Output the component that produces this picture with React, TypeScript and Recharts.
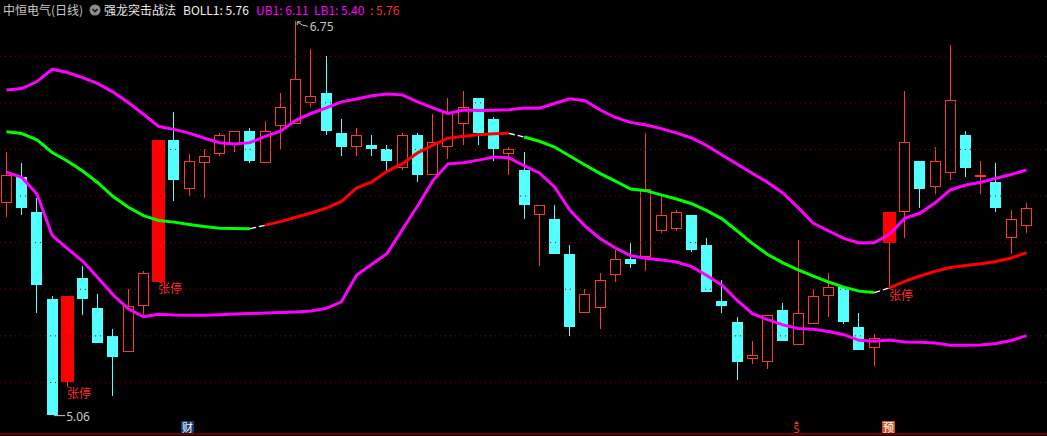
import React from 'react';
import {
  ComposedChart,
  Bar,
  Line,
  XAxis,
  YAxis,
  ReferenceLine,
  ReferenceDot,
} from 'recharts';

const W = 1047;
const H = 436;
const CJK = '"Noto Sans CJK SC", "Noto Sans", sans-serif';

const RED = '#ff3636';
const CYAN = '#54ffff';
const MAGENTA = '#ff00ff';

// 日K线 OHLC
const opens = [
  5.97, 6.08, 5.93, 5.56, 5.2, 5.65, 5.52, 5.4, 5.33, 5.53,
  5.63, 6.24, 6.03, 6.14, 6.18, 6.22, 6.28, 6.14, 6.3, 6.31,
  6.4, 6.44, 6.27, 6.21, 6.22, 6.2, 6.12, 6.26, 6.09, 6.21,
  6.31, 6.42, 6.33, 6.18, 6.11, 5.92, 5.9, 5.75, 5.5, 5.52,
  5.66, 5.73, 5.74, 5.85, 5.86, 5.92, 5.79, 5.55, 5.46, 5.3,
  5.29, 5.51, 5.36, 5.45, 5.57, 5.61, 5.44, 5.35, 5.8, 5.93,
  6.15, 6.04, 6.1, 6.26, 6.08, 6.06, 5.82, 5.87,
];
const highs = [
  6.19, 6.14, 5.99, 5.57, 5.57, 5.7, 5.58, 5.43, 5.6, 5.68,
  6.24, 6.36, 6.18, 6.2, 6.27, 6.28, 6.29, 6.32, 6.44, 6.75,
  6.63, 6.6, 6.33, 6.29, 6.26, 6.22, 6.27, 6.27, 6.35, 6.42,
  6.45, 6.42, 6.34, 6.21, 6.19, 5.96, 5.96, 5.79, 5.6, 5.67,
  5.77, 5.8, 6.27, 6.0, 5.94, 5.92, 5.82, 5.64, 5.48, 5.38,
  5.49, 5.54, 5.81, 5.6, 5.67, 5.61, 5.5, 5.41, 5.93, 6.45,
  6.15, 6.21, 6.65, 6.28, 6.15, 6.14, 5.94, 5.97,
];
const lows = [
  5.91, 5.92, 5.5, 5.06, 5.18, 5.49, 5.37, 5.14, 5.33, 5.49,
  5.63, 5.98, 6.0, 5.99, 6.17, 6.19, 6.14, 6.14, 6.2, 6.31,
  6.38, 6.26, 6.17, 6.17, 6.17, 6.1, 6.11, 6.06, 6.09, 6.16,
  6.22, 6.22, 6.15, 6.09, 5.9, 5.7, 5.75, 5.4, 5.5, 5.43,
  5.63, 5.69, 5.68, 5.84, 5.85, 5.76, 5.59, 5.5, 5.21, 5.28,
  5.26, 5.38, 5.36, 5.45, 5.48, 5.45, 5.34, 5.27, 5.6, 5.82,
  5.95, 6.01, 6.07, 6.08, 6.01, 5.93, 5.75, 5.84,
];
const closes = [
  6.09, 5.95, 5.62, 5.06, 5.57, 5.56, 5.37, 5.31, 5.53, 5.67,
  6.24, 6.07, 6.15, 6.17, 6.26, 6.28, 6.15, 6.28, 6.38, 6.5,
  6.43, 6.28, 6.21, 6.26, 6.2, 6.15, 6.26, 6.09, 6.23, 6.36,
  6.38, 6.27, 6.2, 6.2, 5.96, 5.96, 5.75, 5.44, 5.58, 5.64,
  5.73, 5.71, 6.03, 5.92, 5.93, 5.77, 5.59, 5.53, 5.29, 5.32,
  5.49, 5.38, 5.5, 5.57, 5.61, 5.46, 5.34, 5.39, 5.93, 6.23,
  6.03, 6.15, 6.41, 6.12, 6.09, 5.95, 5.9, 5.95,
];

// BOLL 上轨 / 中轨 / 下轨
const upperBand = [
  6.455, 6.461, 6.491, 6.544, 6.53, 6.508, 6.482, 6.446, 6.401, 6.351,
  6.298, 6.286, 6.27, 6.248, 6.229, 6.223, 6.229, 6.256, 6.278, 6.325,
  6.354, 6.378, 6.404, 6.416, 6.43, 6.438, 6.434, 6.404, 6.378, 6.354,
  6.369, 6.367, 6.368, 6.37, 6.378, 6.377, 6.397, 6.417, 6.409, 6.369,
  6.337, 6.316, 6.305, 6.289, 6.271, 6.249, 6.216, 6.176, 6.136, 6.097,
  6.058, 6.013, 5.95, 5.883, 5.85, 5.818, 5.799, 5.8, 5.836, 5.904,
  5.926, 5.971, 6.026, 6.047, 6.059, 6.076, 6.092, 6.112,
];
const midBand = [
  6.276, 6.268, 6.241, 6.187, 6.15, 6.107, 6.057, 5.998, 5.952, 5.916,
  5.895, 5.888, 5.878, 5.869, 5.862, 5.861, 5.86, 5.875, 5.89, 5.909,
  5.927, 5.948, 5.977, 6.035, 6.061, 6.106, 6.139, 6.185, 6.218, 6.248,
  6.256, 6.263, 6.267, 6.269, 6.253, 6.235, 6.21, 6.172, 6.133, 6.096,
  6.064, 6.03, 6.023, 6.005, 5.987, 5.967, 5.937, 5.902, 5.85, 5.796,
  5.749, 5.713, 5.683, 5.656, 5.631, 5.609, 5.592, 5.586, 5.606, 5.634,
  5.657, 5.677, 5.693, 5.702, 5.709, 5.719, 5.734, 5.757,
];
const lowerBand = [
  6.102, 6.08, 6.009, 5.831, 5.774, 5.721, 5.649, 5.576, 5.516, 5.482,
  5.493, 5.49, 5.489, 5.489, 5.491, 5.494, 5.496, 5.498, 5.5, 5.502,
  5.507, 5.518, 5.546, 5.661, 5.707, 5.754, 5.856, 5.957, 6.065, 6.138,
  6.143, 6.154, 6.167, 6.164, 6.13, 6.099, 6.039, 5.94, 5.871, 5.817,
  5.777, 5.744, 5.733, 5.726, 5.717, 5.697, 5.659, 5.617, 5.552, 5.495,
  5.47, 5.447, 5.432, 5.428, 5.419, 5.405, 5.381, 5.377, 5.382, 5.374,
  5.373, 5.369, 5.36, 5.36, 5.361, 5.367, 5.38, 5.401,
];

const limitUpDays = [4, 10, 58];
// 中轨拐点所在的线段(第 s 段连接 s 与 s+1)
const midTurns = [16, 33, 57];
const gridPrices = [5.2, 5.4, 5.6, 5.8, 6.0, 6.2, 6.4, 6.6];
const eventDays = [12, 52, 58];
const eventKinds = ['财', 'S', '预'];

const stockName = '中恒电气(日线)';
const formulaName = '强龙突击战法';

const yDomain: [number, number] = [4.979, 6.841];
const xDomain: [number, number] = [-0.427, 68.345];

const segKind = (s: number) => {
  if (midTurns.includes(s)) return 'turn';
  const flips = midTurns.filter((t) => t < s).length;
  return flips % 2 === 0 ? 'down' : 'up';
};

const data = opens.map((open, i) => {
  const touches = (kind: string) =>
    (i > 0 && segKind(i - 1) === kind) ||
    (i < opens.length - 1 && segKind(i) === kind);
  return {
    i,
    open,
    high: highs[i],
    low: lows[i],
    close: closes[i],
    range: [lows[i], highs[i]],
    upper: upperBand[i],
    lower: lowerBand[i],
    midDown: touches('down') ? midBand[i] : null,
    midUp: touches('up') ? midBand[i] : null,
    midTurn: touches('turn') ? midBand[i] : null,
    limitUp: limitUpDays.includes(i),
  };
});

const last = opens.length - 1;
const hiIdx = highs.indexOf(Math.max(...highs));
const loIdx = lows.indexOf(Math.min(...lows));

// 在 [low, high] 柱内按比例换算价格坐标
const priceY = (props: any) => {
  const { y, height, payload } = props;
  const top = Math.min(y, y + height);
  const span = Math.abs(height);
  return (v: number) =>
    top + ((payload.high - v) / (payload.high - payload.low)) * span;
};

const Candle = (props: any) => {
  const { x, width, payload } = props;
  if (!payload) return null;
  const py = priceY(props);
  const { open, close, high, low } = payload;
  const up = close >= open;
  const color = up ? RED : CYAN;
  const left = Math.round(x);
  const w = Math.round(width);
  const cx = left + Math.floor(w / 2) + 0.5;
  const bTop = Math.round(py(Math.max(open, close)));
  const bBot = Math.round(py(Math.min(open, close)));
  const hY = Math.round(py(high));
  const lY = Math.round(py(low));
  return (
    <g>
      {hY < bTop && <line x1={cx} x2={cx} y1={hY} y2={bTop} stroke={color} />}
      {lY > bBot && <line x1={cx} x2={cx} y1={bBot} y2={lY} stroke={color} />}
      {up ? (
        <rect
          x={left + 0.5}
          y={bTop + 0.5}
          width={w - 1}
          height={Math.max(bBot - bTop - 1, 1)}
          fill="#000"
          stroke={RED}
        />
      ) : (
        <rect x={left} y={bTop} width={w} height={Math.max(bBot - bTop, 1)} fill={CYAN} />
      )}
    </g>
  );
};

// 涨停实体 + 标注
const LimitUp = (props: any) => {
  const { x, width, payload } = props;
  if (!payload || !payload.limitUp) return null;
  const py = priceY(props);
  const left = Math.round(x);
  const w = Math.round(width);
  const cx = left + Math.floor(w / 2);
  const bTop = Math.round(py(payload.close));
  const bBot = Math.round(py(payload.open));
  return (
    <g>
      <rect x={left - 1} y={bTop} width={w + 2} height={bBot - bTop} fill="#ff0000" />
      <text
        x={cx}
        y={Math.round(py(payload.low)) + 11}
        fill="#ff2a2a"
        fontSize={12}
        fontFamily={CJK}
      >
        张停
      </text>
    </g>
  );
};

const HighTag = ({ cx, cy, v }: any) => (
  <g stroke="#c8c8c8" fill="none">
    <path d={`M${cx + 1.5} ${cy + 4} V${cy + 0.5} H${cx + 5}`} />
    <path d={`M${cx + 2} ${cy + 1} L${cx + 7} ${cy + 4} L${cx + 12} ${cy + 5}`} />
    <text
      x={cx + 14}
      y={cy + 10}
      fill="#c8c8c8"
      stroke="none"
      fontSize={12}
      fontFamily="'Noto Sans', sans-serif"
    >
      {v.toFixed(2)}
    </text>
  </g>
);

const LowTag = ({ cx, cy, v }: any) => (
  <g stroke="#c8c8c8" fill="none">
    <path d={`M${cx + 2} ${cy + 0.5} H${cx + 13} M${cx + 2} ${cy + 0.5} L${cx + 5} ${cy - 2.5}`} />
    <text
      x={cx + 14}
      y={cy + 6}
      fill="#c8c8c8"
      stroke="none"
      fontSize={12}
      fontFamily="'Noto Sans', sans-serif"
    >
      {v.toFixed(2)}
    </text>
  </g>
);

const EventTag = ({ cx, cy, kind }: any) => {
  const bx = Math.round(cx) - 8;
  if (kind === 'S') {
    return (
      <g>
        <path d={`M${bx + 6.5} ${cy - 13} l-2.5 3 h5 z`} fill={RED} />
        <text x={bx + 6.5} y={cy - 1.5} textAnchor="middle" fontSize={11} fill={RED} fontFamily="'Noto Sans', sans-serif">
          S
        </text>
      </g>
    );
  }
  const bg = kind === '财' ? '#0d3b73' : '#c4561c';
  return (
    <g>
      <rect x={bx} y={cy - 13} width={13} height={12} fill={bg} />
      <text x={bx + 6.5} y={cy - 2.5} textAnchor="middle" fontSize={11} fill="#fff" fontFamily={CJK}>
        {kind}
      </text>
    </g>
  );
};

const Header = () => {
  const item = (left: number, color: string, text: string) => (
    <span style={{ position: 'absolute', left, top: 4, color }}>{text}</span>
  );
  return (
    <div
      style={{
        position: 'absolute',
        left: 0,
        top: 0,
        width: W,
        height: 18,
        fontFamily: CJK,
        fontSize: 12,
        lineHeight: '12px',
        whiteSpace: 'nowrap',
      }}
    >
      {item(3, '#c8c8c8', stockName)}
      <svg style={{ position: 'absolute', left: 89, top: 4 }} width={12} height={12}>
        <circle cx={6} cy={6} r={5.5} fill="#8c8c8c" />
        <path d="M3.5 5 L6 7.5 L8.5 5" stroke="#1a1a1a" strokeWidth={1.6} fill="none" />
      </svg>
      {item(104, '#e8e8e8', formulaName)}
      {item(183, '#f0f0f0', `BOLL1: ${midBand[last].toFixed(2)}`)}
      {item(256, MAGENTA, `UB1: ${upperBand[last].toFixed(2)}`)}
      {item(314, MAGENTA, `LB1: ${lowerBand[last].toFixed(2)}`)}
      {item(370, '#ff3232', `: ${midBand[last].toFixed(2)}`)}
    </div>
  );
};

export default function App() {
  return (
    <div
      style={{
        position: 'absolute',
        left: 0,
        top: 0,
        width: W,
        height: H,
        background: '#000',
        overflow: 'hidden',
      }}
    >
      <ComposedChart
        width={W}
        height={H}
        data={data}
        margin={{ top: 0, right: 0, bottom: 0, left: 0 }}
        barGap={-11}
      >
        <XAxis
          type="number"
          dataKey="i"
          domain={xDomain}
          allowDataOverflow
          height={2}
          tick={false}
          tickLine={false}
          axisLine={{ stroke: '#c00000' }}
        />
        <YAxis hide type="number" domain={yDomain} allowDataOverflow />
        {gridPrices.map((v) => (
          <ReferenceLine key={v} y={v} stroke="#a00000" strokeDasharray="1 4" />
        ))}
        <Bar dataKey="range" barSize={11} shape={Candle} isAnimationActive={false} />
        <Line dataKey="upper" type="linear" stroke={MAGENTA} strokeWidth={3} dot={false} isAnimationActive={false} />
        <Line dataKey="lower" type="linear" stroke={MAGENTA} strokeWidth={3} dot={false} isAnimationActive={false} />
        <Line dataKey="midDown" type="linear" stroke="#00ff00" strokeWidth={3} dot={false} isAnimationActive={false} />
        <Line dataKey="midUp" type="linear" stroke="#ff0000" strokeWidth={3} dot={false} isAnimationActive={false} />
        <Line
          dataKey="midTurn"
          type="linear"
          stroke="#ffffff"
          strokeWidth={1.3}
          strokeDasharray="6 3"
          dot={false}
          isAnimationActive={false}
        />
        <Bar dataKey="range" barSize={11} shape={LimitUp} isAnimationActive={false} />
        <ReferenceDot
          x={hiIdx}
          y={highs[hiIdx]}
          r={0}
          ifOverflow="visible"
          shape={(p: any) => <HighTag cx={p.cx} cy={p.cy} v={highs[hiIdx]} />}
        />
        <ReferenceDot
          x={loIdx}
          y={lows[loIdx]}
          r={0}
          ifOverflow="visible"
          shape={(p: any) => <LowTag cx={p.cx} cy={p.cy} v={lows[loIdx]} />}
        />
        {eventDays.map((d, k) => (
          <ReferenceDot
            key={d}
            x={d}
            y={yDomain[0]}
            r={0}
            ifOverflow="visible"
            shape={(p: any) => <EventTag cx={p.cx} cy={p.cy} kind={eventKinds[k]} />}
          />
        ))}
      </ComposedChart>
      <Header />
    </div>
  );
}
